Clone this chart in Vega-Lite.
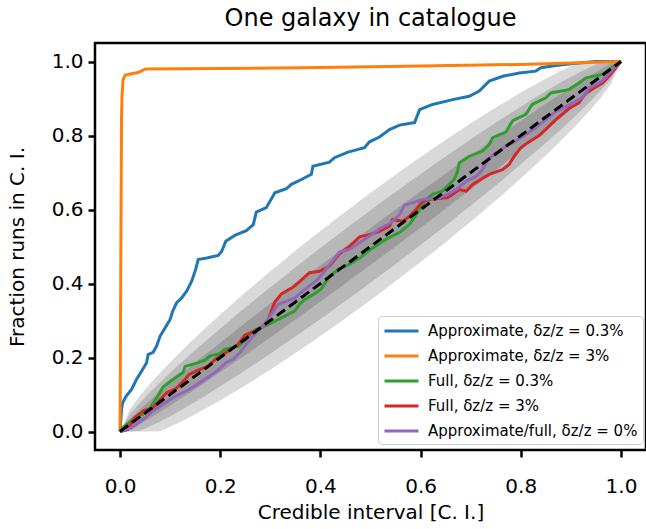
{
  "$schema": "https://vega.github.io/schema/vega-lite/v6.json",
  "width": 551,
  "height": 407,
  "autosize": {"type": "none"},
  "padding": {"left": 95, "top": 43, "right": 0, "bottom": 79},
  "title": {"text": "One galaxy in catalogue", "fontSize": 24, "fontWeight": "normal", "font": "DejaVu Sans", "color": "black", "offset": 12, "anchor": "middle"},
  "datasets": {
    "bands": [
      {"x": 0, "lo68": 0, "hi68": 0, "lo95": 0, "hi95": 0, "lo997": 0, "hi997": 0},
      {"x": 0.02, "lo68": 0.006, "hi68": 0.034, "lo95": 0, "hi95": 0.047, "lo997": 0, "hi997": 0.061},
      {"x": 0.04, "lo68": 0.020, "hi68": 0.060, "lo95": 0.002, "hi95": 0.078, "lo997": 0, "hi997": 0.097},
      {"x": 0.06, "lo68": 0.036, "hi68": 0.084, "lo95": 0.014, "hi95": 0.107, "lo997": 0, "hi997": 0.129},
      {"x": 0.08, "lo68": 0.053, "hi68": 0.107, "lo95": 0.027, "hi95": 0.133, "lo997": 0.001, "hi997": 0.159},
      {"x": 0.10, "lo68": 0.070, "hi68": 0.130, "lo95": 0.041, "hi95": 0.159, "lo997": 0.013, "hi997": 0.187},
      {"x": 0.12, "lo68": 0.088, "hi68": 0.153, "lo95": 0.056, "hi95": 0.184, "lo997": 0.026, "hi997": 0.214},
      {"x": 0.14, "lo68": 0.105, "hi68": 0.175, "lo95": 0.072, "hi95": 0.208, "lo997": 0.039, "hi997": 0.241},
      {"x": 0.16, "lo68": 0.123, "hi68": 0.197, "lo95": 0.088, "hi95": 0.232, "lo997": 0.054, "hi997": 0.266},
      {"x": 0.18, "lo68": 0.142, "hi68": 0.218, "lo95": 0.105, "hi95": 0.255, "lo997": 0.069, "hi997": 0.291},
      {"x": 0.20, "lo68": 0.160, "hi68": 0.240, "lo95": 0.122, "hi95": 0.278, "lo997": 0.084, "hi997": 0.316},
      {"x": 0.22, "lo68": 0.179, "hi68": 0.261, "lo95": 0.139, "hi95": 0.301, "lo997": 0.100, "hi997": 0.340},
      {"x": 0.24, "lo68": 0.197, "hi68": 0.283, "lo95": 0.156, "hi95": 0.324, "lo997": 0.116, "hi997": 0.364},
      {"x": 0.26, "lo68": 0.216, "hi68": 0.304, "lo95": 0.174, "hi95": 0.346, "lo997": 0.133, "hi997": 0.387},
      {"x": 0.28, "lo68": 0.235, "hi68": 0.325, "lo95": 0.192, "hi95": 0.368, "lo997": 0.150, "hi997": 0.410},
      {"x": 0.30, "lo68": 0.254, "hi68": 0.346, "lo95": 0.210, "hi95": 0.390, "lo997": 0.167, "hi997": 0.433},
      {"x": 0.32, "lo68": 0.273, "hi68": 0.367, "lo95": 0.229, "hi95": 0.411, "lo997": 0.185, "hi997": 0.455},
      {"x": 0.34, "lo68": 0.293, "hi68": 0.387, "lo95": 0.247, "hi95": 0.433, "lo997": 0.203, "hi997": 0.478},
      {"x": 0.36, "lo68": 0.312, "hi68": 0.408, "lo95": 0.266, "hi95": 0.454, "lo997": 0.221, "hi997": 0.499},
      {"x": 0.38, "lo68": 0.332, "hi68": 0.429, "lo95": 0.285, "hi95": 0.475, "lo997": 0.239, "hi997": 0.521},
      {"x": 0.40, "lo68": 0.351, "hi68": 0.449, "lo95": 0.304, "hi95": 0.496, "lo997": 0.258, "hi997": 0.542},
      {"x": 0.42, "lo68": 0.371, "hi68": 0.469, "lo95": 0.323, "hi95": 0.517, "lo997": 0.277, "hi997": 0.563},
      {"x": 0.44, "lo68": 0.390, "hi68": 0.490, "lo95": 0.343, "hi95": 0.537, "lo997": 0.296, "hi997": 0.584},
      {"x": 0.46, "lo68": 0.410, "hi68": 0.510, "lo95": 0.362, "hi95": 0.558, "lo997": 0.316, "hi997": 0.604},
      {"x": 0.48, "lo68": 0.430, "hi68": 0.530, "lo95": 0.382, "hi95": 0.578, "lo997": 0.335, "hi997": 0.625},
      {"x": 0.50, "lo68": 0.450, "hi68": 0.550, "lo95": 0.402, "hi95": 0.598, "lo997": 0.355, "hi997": 0.645},
      {"x": 0.52, "lo68": 0.470, "hi68": 0.570, "lo95": 0.422, "hi95": 0.618, "lo997": 0.375, "hi997": 0.665},
      {"x": 0.54, "lo68": 0.490, "hi68": 0.590, "lo95": 0.442, "hi95": 0.638, "lo997": 0.396, "hi997": 0.684},
      {"x": 0.56, "lo68": 0.510, "hi68": 0.610, "lo95": 0.463, "hi95": 0.657, "lo997": 0.416, "hi997": 0.704},
      {"x": 0.58, "lo68": 0.531, "hi68": 0.629, "lo95": 0.483, "hi95": 0.677, "lo997": 0.437, "hi997": 0.723},
      {"x": 0.60, "lo68": 0.551, "hi68": 0.649, "lo95": 0.504, "hi95": 0.696, "lo997": 0.458, "hi997": 0.742},
      {"x": 0.62, "lo68": 0.571, "hi68": 0.668, "lo95": 0.525, "hi95": 0.715, "lo997": 0.479, "hi997": 0.761},
      {"x": 0.64, "lo68": 0.592, "hi68": 0.688, "lo95": 0.546, "hi95": 0.734, "lo997": 0.501, "hi997": 0.779},
      {"x": 0.66, "lo68": 0.613, "hi68": 0.707, "lo95": 0.567, "hi95": 0.753, "lo997": 0.522, "hi997": 0.797},
      {"x": 0.68, "lo68": 0.633, "hi68": 0.727, "lo95": 0.589, "hi95": 0.771, "lo997": 0.545, "hi997": 0.815},
      {"x": 0.70, "lo68": 0.654, "hi68": 0.746, "lo95": 0.610, "hi95": 0.790, "lo997": 0.567, "hi997": 0.833},
      {"x": 0.72, "lo68": 0.675, "hi68": 0.765, "lo95": 0.632, "hi95": 0.808, "lo997": 0.590, "hi997": 0.850},
      {"x": 0.74, "lo68": 0.696, "hi68": 0.784, "lo95": 0.654, "hi95": 0.826, "lo997": 0.613, "hi997": 0.867},
      {"x": 0.76, "lo68": 0.717, "hi68": 0.803, "lo95": 0.676, "hi95": 0.844, "lo997": 0.636, "hi997": 0.884},
      {"x": 0.78, "lo68": 0.739, "hi68": 0.821, "lo95": 0.699, "hi95": 0.861, "lo997": 0.660, "hi997": 0.900},
      {"x": 0.80, "lo68": 0.760, "hi68": 0.840, "lo95": 0.722, "hi95": 0.878, "lo997": 0.684, "hi997": 0.916},
      {"x": 0.82, "lo68": 0.782, "hi68": 0.858, "lo95": 0.745, "hi95": 0.895, "lo997": 0.709, "hi997": 0.931},
      {"x": 0.84, "lo68": 0.803, "hi68": 0.877, "lo95": 0.768, "hi95": 0.912, "lo997": 0.734, "hi997": 0.946},
      {"x": 0.86, "lo68": 0.825, "hi68": 0.895, "lo95": 0.792, "hi95": 0.928, "lo997": 0.759, "hi997": 0.961},
      {"x": 0.88, "lo68": 0.847, "hi68": 0.912, "lo95": 0.816, "hi95": 0.944, "lo997": 0.786, "hi997": 0.974},
      {"x": 0.90, "lo68": 0.870, "hi68": 0.930, "lo95": 0.841, "hi95": 0.959, "lo997": 0.813, "hi997": 0.987},
      {"x": 0.92, "lo68": 0.893, "hi68": 0.947, "lo95": 0.867, "hi95": 0.973, "lo997": 0.841, "hi997": 0.999},
      {"x": 0.94, "lo68": 0.916, "hi68": 0.964, "lo95": 0.893, "hi95": 0.986, "lo997": 0.871, "hi997": 1.0},
      {"x": 0.96, "lo68": 0.940, "hi68": 0.980, "lo95": 0.922, "hi95": 0.998, "lo997": 0.903, "hi997": 1.0},
      {"x": 0.98, "lo68": 0.966, "hi68": 0.994, "lo95": 0.953, "hi95": 1.0, "lo997": 0.939, "hi997": 1.0},
      {"x": 1.0, "lo68": 1, "hi68": 1, "lo95": 1, "hi95": 1, "lo997": 1, "hi997": 1}
    ],
    "diag": [{"x": 0, "y": 0}, {"x": 1, "y": 1}],
    "lines": [
      {"s": "Approximate, δz/z = 0.3%", "x": 0, "y": 0},
      {"s": "Approximate, δz/z = 0.3%", "x": 0.003, "y": 0.06},
      {"s": "Approximate, δz/z = 0.3%", "x": 0.005, "y": 0.077},
      {"s": "Approximate, δz/z = 0.3%", "x": 0.012, "y": 0.095},
      {"s": "Approximate, δz/z = 0.3%", "x": 0.023, "y": 0.114},
      {"s": "Approximate, δz/z = 0.3%", "x": 0.033, "y": 0.141},
      {"s": "Approximate, δz/z = 0.3%", "x": 0.043, "y": 0.163},
      {"s": "Approximate, δz/z = 0.3%", "x": 0.053, "y": 0.186},
      {"s": "Approximate, δz/z = 0.3%", "x": 0.056, "y": 0.208},
      {"s": "Approximate, δz/z = 0.3%", "x": 0.066, "y": 0.214},
      {"s": "Approximate, δz/z = 0.3%", "x": 0.073, "y": 0.231},
      {"s": "Approximate, δz/z = 0.3%", "x": 0.08, "y": 0.258},
      {"s": "Approximate, δz/z = 0.3%", "x": 0.09, "y": 0.28},
      {"s": "Approximate, δz/z = 0.3%", "x": 0.1, "y": 0.303},
      {"s": "Approximate, δz/z = 0.3%", "x": 0.105, "y": 0.325},
      {"s": "Approximate, δz/z = 0.3%", "x": 0.113, "y": 0.348},
      {"s": "Approximate, δz/z = 0.3%", "x": 0.123, "y": 0.361},
      {"s": "Approximate, δz/z = 0.3%", "x": 0.133, "y": 0.379},
      {"s": "Approximate, δz/z = 0.3%", "x": 0.143, "y": 0.406},
      {"s": "Approximate, δz/z = 0.3%", "x": 0.151, "y": 0.438},
      {"s": "Approximate, δz/z = 0.3%", "x": 0.156, "y": 0.465},
      {"s": "Approximate, δz/z = 0.3%", "x": 0.173, "y": 0.469},
      {"s": "Approximate, δz/z = 0.3%", "x": 0.196, "y": 0.476},
      {"s": "Approximate, δz/z = 0.3%", "x": 0.203, "y": 0.487},
      {"s": "Approximate, δz/z = 0.3%", "x": 0.211, "y": 0.514},
      {"s": "Approximate, δz/z = 0.3%", "x": 0.229, "y": 0.53},
      {"s": "Approximate, δz/z = 0.3%", "x": 0.252, "y": 0.543},
      {"s": "Approximate, δz/z = 0.3%", "x": 0.266, "y": 0.559},
      {"s": "Approximate, δz/z = 0.3%", "x": 0.272, "y": 0.593},
      {"s": "Approximate, δz/z = 0.3%", "x": 0.292, "y": 0.605},
      {"s": "Approximate, δz/z = 0.3%", "x": 0.309, "y": 0.645},
      {"s": "Approximate, δz/z = 0.3%", "x": 0.332, "y": 0.656},
      {"s": "Approximate, δz/z = 0.3%", "x": 0.342, "y": 0.668},
      {"s": "Approximate, δz/z = 0.3%", "x": 0.362, "y": 0.681},
      {"s": "Approximate, δz/z = 0.3%", "x": 0.382, "y": 0.695},
      {"s": "Approximate, δz/z = 0.3%", "x": 0.385, "y": 0.717},
      {"s": "Approximate, δz/z = 0.3%", "x": 0.418, "y": 0.728},
      {"s": "Approximate, δz/z = 0.3%", "x": 0.428, "y": 0.74},
      {"s": "Approximate, δz/z = 0.3%", "x": 0.455, "y": 0.755},
      {"s": "Approximate, δz/z = 0.3%", "x": 0.488, "y": 0.767},
      {"s": "Approximate, δz/z = 0.3%", "x": 0.498, "y": 0.783},
      {"s": "Approximate, δz/z = 0.3%", "x": 0.518, "y": 0.796},
      {"s": "Approximate, δz/z = 0.3%", "x": 0.538, "y": 0.816},
      {"s": "Approximate, δz/z = 0.3%", "x": 0.558, "y": 0.828},
      {"s": "Approximate, δz/z = 0.3%", "x": 0.588, "y": 0.835},
      {"s": "Approximate, δz/z = 0.3%", "x": 0.598, "y": 0.87},
      {"s": "Approximate, δz/z = 0.3%", "x": 0.624, "y": 0.884},
      {"s": "Approximate, δz/z = 0.3%", "x": 0.664, "y": 0.897},
      {"s": "Approximate, δz/z = 0.3%", "x": 0.697, "y": 0.906},
      {"s": "Approximate, δz/z = 0.3%", "x": 0.717, "y": 0.92},
      {"s": "Approximate, δz/z = 0.3%", "x": 0.737, "y": 0.947},
      {"s": "Approximate, δz/z = 0.3%", "x": 0.764, "y": 0.96},
      {"s": "Approximate, δz/z = 0.3%", "x": 0.797, "y": 0.969},
      {"s": "Approximate, δz/z = 0.3%", "x": 0.83, "y": 0.974},
      {"s": "Approximate, δz/z = 0.3%", "x": 0.84, "y": 0.983},
      {"s": "Approximate, δz/z = 0.3%", "x": 0.87, "y": 0.989},
      {"s": "Approximate, δz/z = 0.3%", "x": 0.91, "y": 0.995},
      {"s": "Approximate, δz/z = 0.3%", "x": 0.95, "y": 1.0},
      {"s": "Approximate, δz/z = 0.3%", "x": 1.0, "y": 1.0},
      {"s": "Approximate, δz/z = 3%", "x": 0, "y": 0},
      {"s": "Approximate, δz/z = 3%", "x": 0.001, "y": 0.3},
      {"s": "Approximate, δz/z = 3%", "x": 0.002, "y": 0.6},
      {"s": "Approximate, δz/z = 3%", "x": 0.003, "y": 0.85},
      {"s": "Approximate, δz/z = 3%", "x": 0.004, "y": 0.91},
      {"s": "Approximate, δz/z = 3%", "x": 0.006, "y": 0.95},
      {"s": "Approximate, δz/z = 3%", "x": 0.01, "y": 0.963},
      {"s": "Approximate, δz/z = 3%", "x": 0.02, "y": 0.966},
      {"s": "Approximate, δz/z = 3%", "x": 0.036, "y": 0.97},
      {"s": "Approximate, δz/z = 3%", "x": 0.045, "y": 0.976},
      {"s": "Approximate, δz/z = 3%", "x": 0.051, "y": 0.98},
      {"s": "Approximate, δz/z = 3%", "x": 0.2, "y": 0.981},
      {"s": "Approximate, δz/z = 3%", "x": 0.4, "y": 0.984},
      {"s": "Approximate, δz/z = 3%", "x": 0.6, "y": 0.988},
      {"s": "Approximate, δz/z = 3%", "x": 0.8, "y": 0.992},
      {"s": "Approximate, δz/z = 3%", "x": 0.9, "y": 0.996},
      {"s": "Approximate, δz/z = 3%", "x": 1.0, "y": 1.0},
      {"s": "Full, δz/z = 0.3%", "x": 0, "y": 0},
      {"s": "Full, δz/z = 0.3%", "x": 0.005, "y": 0.01},
      {"s": "Full, δz/z = 0.3%", "x": 0.023, "y": 0.03},
      {"s": "Full, δz/z = 0.3%", "x": 0.037, "y": 0.041},
      {"s": "Full, δz/z = 0.3%", "x": 0.05, "y": 0.05},
      {"s": "Full, δz/z = 0.3%", "x": 0.06, "y": 0.064},
      {"s": "Full, δz/z = 0.3%", "x": 0.073, "y": 0.091},
      {"s": "Full, δz/z = 0.3%", "x": 0.086, "y": 0.12},
      {"s": "Full, δz/z = 0.3%", "x": 0.1, "y": 0.135},
      {"s": "Full, δz/z = 0.3%", "x": 0.126, "y": 0.16},
      {"s": "Full, δz/z = 0.3%", "x": 0.13, "y": 0.176},
      {"s": "Full, δz/z = 0.3%", "x": 0.156, "y": 0.186},
      {"s": "Full, δz/z = 0.3%", "x": 0.17, "y": 0.193},
      {"s": "Full, δz/z = 0.3%", "x": 0.179, "y": 0.204},
      {"s": "Full, δz/z = 0.3%", "x": 0.199, "y": 0.21},
      {"s": "Full, δz/z = 0.3%", "x": 0.209, "y": 0.222},
      {"s": "Full, δz/z = 0.3%", "x": 0.237, "y": 0.231},
      {"s": "Full, δz/z = 0.3%", "x": 0.25, "y": 0.246},
      {"s": "Full, δz/z = 0.3%", "x": 0.262, "y": 0.267},
      {"s": "Full, δz/z = 0.3%", "x": 0.27, "y": 0.275},
      {"s": "Full, δz/z = 0.3%", "x": 0.295, "y": 0.289},
      {"s": "Full, δz/z = 0.3%", "x": 0.309, "y": 0.298},
      {"s": "Full, δz/z = 0.3%", "x": 0.329, "y": 0.312},
      {"s": "Full, δz/z = 0.3%", "x": 0.349, "y": 0.326},
      {"s": "Full, δz/z = 0.3%", "x": 0.359, "y": 0.345},
      {"s": "Full, δz/z = 0.3%", "x": 0.369, "y": 0.357},
      {"s": "Full, δz/z = 0.3%", "x": 0.388, "y": 0.372},
      {"s": "Full, δz/z = 0.3%", "x": 0.402, "y": 0.386},
      {"s": "Full, δz/z = 0.3%", "x": 0.418, "y": 0.42},
      {"s": "Full, δz/z = 0.3%", "x": 0.438, "y": 0.44},
      {"s": "Full, δz/z = 0.3%", "x": 0.458, "y": 0.452},
      {"s": "Full, δz/z = 0.3%", "x": 0.478, "y": 0.468},
      {"s": "Full, δz/z = 0.3%", "x": 0.498, "y": 0.49},
      {"s": "Full, δz/z = 0.3%", "x": 0.518, "y": 0.508},
      {"s": "Full, δz/z = 0.3%", "x": 0.538, "y": 0.525},
      {"s": "Full, δz/z = 0.3%", "x": 0.558, "y": 0.538},
      {"s": "Full, δz/z = 0.3%", "x": 0.578, "y": 0.56},
      {"s": "Full, δz/z = 0.3%", "x": 0.598, "y": 0.6},
      {"s": "Full, δz/z = 0.3%", "x": 0.611, "y": 0.627},
      {"s": "Full, δz/z = 0.3%", "x": 0.624, "y": 0.641},
      {"s": "Full, δz/z = 0.3%", "x": 0.644, "y": 0.65},
      {"s": "Full, δz/z = 0.3%", "x": 0.657, "y": 0.668},
      {"s": "Full, δz/z = 0.3%", "x": 0.667, "y": 0.681},
      {"s": "Full, δz/z = 0.3%", "x": 0.674, "y": 0.704},
      {"s": "Full, δz/z = 0.3%", "x": 0.677, "y": 0.726},
      {"s": "Full, δz/z = 0.3%", "x": 0.697, "y": 0.744},
      {"s": "Full, δz/z = 0.3%", "x": 0.724, "y": 0.758},
      {"s": "Full, δz/z = 0.3%", "x": 0.737, "y": 0.776},
      {"s": "Full, δz/z = 0.3%", "x": 0.744, "y": 0.794},
      {"s": "Full, δz/z = 0.3%", "x": 0.77, "y": 0.809},
      {"s": "Full, δz/z = 0.3%", "x": 0.784, "y": 0.84},
      {"s": "Full, δz/z = 0.3%", "x": 0.81, "y": 0.857},
      {"s": "Full, δz/z = 0.3%", "x": 0.823, "y": 0.884},
      {"s": "Full, δz/z = 0.3%", "x": 0.85, "y": 0.902},
      {"s": "Full, δz/z = 0.3%", "x": 0.86, "y": 0.915},
      {"s": "Full, δz/z = 0.3%", "x": 0.896, "y": 0.924},
      {"s": "Full, δz/z = 0.3%", "x": 0.916, "y": 0.942},
      {"s": "Full, δz/z = 0.3%", "x": 0.93, "y": 0.956},
      {"s": "Full, δz/z = 0.3%", "x": 0.963, "y": 0.965},
      {"s": "Full, δz/z = 0.3%", "x": 0.976, "y": 0.978},
      {"s": "Full, δz/z = 0.3%", "x": 1.0, "y": 1.0},
      {"s": "Full, δz/z = 3%", "x": 0, "y": 0},
      {"s": "Full, δz/z = 3%", "x": 0.015, "y": 0.005},
      {"s": "Full, δz/z = 3%", "x": 0.028, "y": 0.036},
      {"s": "Full, δz/z = 3%", "x": 0.048, "y": 0.057},
      {"s": "Full, δz/z = 3%", "x": 0.066, "y": 0.064},
      {"s": "Full, δz/z = 3%", "x": 0.082, "y": 0.089},
      {"s": "Full, δz/z = 3%", "x": 0.093, "y": 0.105},
      {"s": "Full, δz/z = 3%", "x": 0.112, "y": 0.116},
      {"s": "Full, δz/z = 3%", "x": 0.125, "y": 0.134},
      {"s": "Full, δz/z = 3%", "x": 0.138, "y": 0.154},
      {"s": "Full, δz/z = 3%", "x": 0.155, "y": 0.165},
      {"s": "Full, δz/z = 3%", "x": 0.175, "y": 0.176},
      {"s": "Full, δz/z = 3%", "x": 0.19, "y": 0.195},
      {"s": "Full, δz/z = 3%", "x": 0.21, "y": 0.212},
      {"s": "Full, δz/z = 3%", "x": 0.225, "y": 0.226},
      {"s": "Full, δz/z = 3%", "x": 0.236, "y": 0.236},
      {"s": "Full, δz/z = 3%", "x": 0.249, "y": 0.26},
      {"s": "Full, δz/z = 3%", "x": 0.265, "y": 0.269},
      {"s": "Full, δz/z = 3%", "x": 0.282, "y": 0.28},
      {"s": "Full, δz/z = 3%", "x": 0.295, "y": 0.3},
      {"s": "Full, δz/z = 3%", "x": 0.309, "y": 0.35},
      {"s": "Full, δz/z = 3%", "x": 0.322, "y": 0.372},
      {"s": "Full, δz/z = 3%", "x": 0.345, "y": 0.39},
      {"s": "Full, δz/z = 3%", "x": 0.359, "y": 0.406},
      {"s": "Full, δz/z = 3%", "x": 0.378, "y": 0.429},
      {"s": "Full, δz/z = 3%", "x": 0.398, "y": 0.433},
      {"s": "Full, δz/z = 3%", "x": 0.418, "y": 0.447},
      {"s": "Full, δz/z = 3%", "x": 0.438, "y": 0.48},
      {"s": "Full, δz/z = 3%", "x": 0.458, "y": 0.5},
      {"s": "Full, δz/z = 3%", "x": 0.478, "y": 0.526},
      {"s": "Full, δz/z = 3%", "x": 0.498, "y": 0.532},
      {"s": "Full, δz/z = 3%", "x": 0.518, "y": 0.541},
      {"s": "Full, δz/z = 3%", "x": 0.538, "y": 0.555},
      {"s": "Full, δz/z = 3%", "x": 0.544, "y": 0.573},
      {"s": "Full, δz/z = 3%", "x": 0.564, "y": 0.568},
      {"s": "Full, δz/z = 3%", "x": 0.578, "y": 0.582},
      {"s": "Full, δz/z = 3%", "x": 0.591, "y": 0.6},
      {"s": "Full, δz/z = 3%", "x": 0.604, "y": 0.622},
      {"s": "Full, δz/z = 3%", "x": 0.618, "y": 0.627},
      {"s": "Full, δz/z = 3%", "x": 0.654, "y": 0.632},
      {"s": "Full, δz/z = 3%", "x": 0.664, "y": 0.641},
      {"s": "Full, δz/z = 3%", "x": 0.677, "y": 0.654},
      {"s": "Full, δz/z = 3%", "x": 0.691, "y": 0.65},
      {"s": "Full, δz/z = 3%", "x": 0.704, "y": 0.668},
      {"s": "Full, δz/z = 3%", "x": 0.72, "y": 0.681},
      {"s": "Full, δz/z = 3%", "x": 0.737, "y": 0.695},
      {"s": "Full, δz/z = 3%", "x": 0.764, "y": 0.708},
      {"s": "Full, δz/z = 3%", "x": 0.777, "y": 0.722},
      {"s": "Full, δz/z = 3%", "x": 0.787, "y": 0.744},
      {"s": "Full, δz/z = 3%", "x": 0.8, "y": 0.767},
      {"s": "Full, δz/z = 3%", "x": 0.813, "y": 0.78},
      {"s": "Full, δz/z = 3%", "x": 0.837, "y": 0.8},
      {"s": "Full, δz/z = 3%", "x": 0.87, "y": 0.843},
      {"s": "Full, δz/z = 3%", "x": 0.896, "y": 0.873},
      {"s": "Full, δz/z = 3%", "x": 0.916, "y": 0.888},
      {"s": "Full, δz/z = 3%", "x": 0.93, "y": 0.915},
      {"s": "Full, δz/z = 3%", "x": 0.963, "y": 0.942},
      {"s": "Full, δz/z = 3%", "x": 0.976, "y": 0.96},
      {"s": "Full, δz/z = 3%", "x": 0.99, "y": 0.983},
      {"s": "Full, δz/z = 3%", "x": 1.0, "y": 1.0},
      {"s": "Approximate/full, δz/z = 0%", "x": 0, "y": 0},
      {"s": "Approximate/full, δz/z = 0%", "x": 0.023, "y": 0.01},
      {"s": "Approximate/full, δz/z = 0%", "x": 0.05, "y": 0.037},
      {"s": "Approximate/full, δz/z = 0%", "x": 0.065, "y": 0.055},
      {"s": "Approximate/full, δz/z = 0%", "x": 0.09, "y": 0.078},
      {"s": "Approximate/full, δz/z = 0%", "x": 0.11, "y": 0.095},
      {"s": "Approximate/full, δz/z = 0%", "x": 0.13, "y": 0.108},
      {"s": "Approximate/full, δz/z = 0%", "x": 0.148, "y": 0.122},
      {"s": "Approximate/full, δz/z = 0%", "x": 0.17, "y": 0.142},
      {"s": "Approximate/full, δz/z = 0%", "x": 0.19, "y": 0.16},
      {"s": "Approximate/full, δz/z = 0%", "x": 0.213, "y": 0.187},
      {"s": "Approximate/full, δz/z = 0%", "x": 0.226, "y": 0.195},
      {"s": "Approximate/full, δz/z = 0%", "x": 0.24, "y": 0.215},
      {"s": "Approximate/full, δz/z = 0%", "x": 0.258, "y": 0.245},
      {"s": "Approximate/full, δz/z = 0%", "x": 0.275, "y": 0.272},
      {"s": "Approximate/full, δz/z = 0%", "x": 0.289, "y": 0.289},
      {"s": "Approximate/full, δz/z = 0%", "x": 0.302, "y": 0.316},
      {"s": "Approximate/full, δz/z = 0%", "x": 0.315, "y": 0.343},
      {"s": "Approximate/full, δz/z = 0%", "x": 0.349, "y": 0.361},
      {"s": "Approximate/full, δz/z = 0%", "x": 0.369, "y": 0.384},
      {"s": "Approximate/full, δz/z = 0%", "x": 0.395, "y": 0.411},
      {"s": "Approximate/full, δz/z = 0%", "x": 0.418, "y": 0.45},
      {"s": "Approximate/full, δz/z = 0%", "x": 0.438, "y": 0.485},
      {"s": "Approximate/full, δz/z = 0%", "x": 0.458, "y": 0.492},
      {"s": "Approximate/full, δz/z = 0%", "x": 0.478, "y": 0.51},
      {"s": "Approximate/full, δz/z = 0%", "x": 0.498, "y": 0.528},
      {"s": "Approximate/full, δz/z = 0%", "x": 0.518, "y": 0.548},
      {"s": "Approximate/full, δz/z = 0%", "x": 0.538, "y": 0.562},
      {"s": "Approximate/full, δz/z = 0%", "x": 0.558, "y": 0.586},
      {"s": "Approximate/full, δz/z = 0%", "x": 0.568, "y": 0.612},
      {"s": "Approximate/full, δz/z = 0%", "x": 0.584, "y": 0.618},
      {"s": "Approximate/full, δz/z = 0%", "x": 0.604, "y": 0.627},
      {"s": "Approximate/full, δz/z = 0%", "x": 0.637, "y": 0.632},
      {"s": "Approximate/full, δz/z = 0%", "x": 0.654, "y": 0.641},
      {"s": "Approximate/full, δz/z = 0%", "x": 0.671, "y": 0.654},
      {"s": "Approximate/full, δz/z = 0%", "x": 0.691, "y": 0.676},
      {"s": "Approximate/full, δz/z = 0%", "x": 0.711, "y": 0.69},
      {"s": "Approximate/full, δz/z = 0%", "x": 0.724, "y": 0.708},
      {"s": "Approximate/full, δz/z = 0%", "x": 0.734, "y": 0.735},
      {"s": "Approximate/full, δz/z = 0%", "x": 0.75, "y": 0.753},
      {"s": "Approximate/full, δz/z = 0%", "x": 0.77, "y": 0.771},
      {"s": "Approximate/full, δz/z = 0%", "x": 0.79, "y": 0.785},
      {"s": "Approximate/full, δz/z = 0%", "x": 0.81, "y": 0.803},
      {"s": "Approximate/full, δz/z = 0%", "x": 0.83, "y": 0.821},
      {"s": "Approximate/full, δz/z = 0%", "x": 0.87, "y": 0.865},
      {"s": "Approximate/full, δz/z = 0%", "x": 0.896, "y": 0.882},
      {"s": "Approximate/full, δz/z = 0%", "x": 0.923, "y": 0.902},
      {"s": "Approximate/full, δz/z = 0%", "x": 0.936, "y": 0.928},
      {"s": "Approximate/full, δz/z = 0%", "x": 0.963, "y": 0.948},
      {"s": "Approximate/full, δz/z = 0%", "x": 0.983, "y": 0.978},
      {"s": "Approximate/full, δz/z = 0%", "x": 1.0, "y": 1.0}
    ]
  },
  "layer": [
    {
      "data": {"name": "bands"},
      "mark": {"type": "area", "color": "black", "opacity": 0.15},
      "encoding": {
        "x": {"field": "x", "type": "quantitative", "scale": {"domain": [-0.05, 1.05], "nice": false, "zero": false}, "axis": {"values": [0, 0.2, 0.4, 0.6, 0.8, 1.0], "format": ".1f"}, "title": "Credible interval [C. I.]"},
        "y": {"field": "lo997", "type": "quantitative", "scale": {"domain": [-0.05, 1.05], "nice": false, "zero": false}, "axis": {"values": [0, 0.2, 0.4, 0.6, 0.8, 1.0], "format": ".1f"}, "title": "Fraction runs in C. I."},
        "y2": {"field": "hi997"}
      }
    },
    {
      "data": {"name": "bands"},
      "mark": {"type": "area", "color": "black", "opacity": 0.15},
      "encoding": {
        "x": {"field": "x", "type": "quantitative", "title": "Credible interval [C. I.]"},
        "y": {"field": "lo95", "type": "quantitative", "title": "Fraction runs in C. I."},
        "y2": {"field": "hi95"}
      }
    },
    {
      "data": {"name": "bands"},
      "mark": {"type": "area", "color": "black", "opacity": 0.15},
      "encoding": {
        "x": {"field": "x", "type": "quantitative", "title": "Credible interval [C. I.]"},
        "y": {"field": "lo68", "type": "quantitative", "title": "Fraction runs in C. I."},
        "y2": {"field": "hi68"}
      }
    },
    {
      "data": {"name": "lines"},
      "mark": {"type": "line", "strokeWidth": 3},
      "encoding": {
        "x": {"field": "x", "type": "quantitative", "title": "Credible interval [C. I.]"},
        "y": {"field": "y", "type": "quantitative", "title": "Fraction runs in C. I."},
        "color": {
          "field": "s", "type": "nominal",
          "scale": {
            "domain": ["Approximate, δz/z = 0.3%", "Approximate, δz/z = 3%", "Full, δz/z = 0.3%", "Full, δz/z = 3%", "Approximate/full, δz/z = 0%"],
            "range": ["#1f77b4", "#ff7f0e", "#2ca02c", "#d62728", "#9467bd"]
          },
          "legend": {
            "title": null, "orient": "none", "legendX": 283, "legendY": 273,
            "symbolType": "M-1,0H3", "symbolSize": 289, "symbolStrokeWidth": 3,
            "labelFontSize": 15, "labelFont": "DejaVu Sans", "labelColor": "black", "labelOffset": 25, "labelLimit": 400,
            "rowPadding": 7, "padding": 5, "strokeColor": "#cccccc", "fillColor": "rgba(255,255,255,0.8)", "cornerRadius": 4
          }
        }
      }
    },
    {
      "data": {"name": "diag"},
      "mark": {"type": "line", "color": "black", "strokeWidth": 3, "strokeDash": [10, 5]},
      "encoding": {
        "x": {"field": "x", "type": "quantitative", "title": "Credible interval [C. I.]"},
        "y": {"field": "y", "type": "quantitative", "title": "Fraction runs in C. I."}
      }
    }
  ],
  "config": {
    "font": "DejaVu Sans",
    "view": {"stroke": "black", "strokeWidth": 2.5},
    "axis": {
      "domain": false, "grid": false, "tickColor": "black", "tickWidth": 2.5, "tickSize": 7,
      "labelFont": "DejaVu Sans", "labelFontSize": 20, "labelColor": "black", "labelFlush": false, "labelOverlap": false,
      "titleFont": "DejaVu Sans", "titleFontSize": 20, "titleFontWeight": "normal", "titleColor": "black"
    },
    "axisX": {"labelPadding": 19, "titlePadding": 6},
    "axisY": {"labelPadding": 5, "titlePadding": 24}
  }
}
